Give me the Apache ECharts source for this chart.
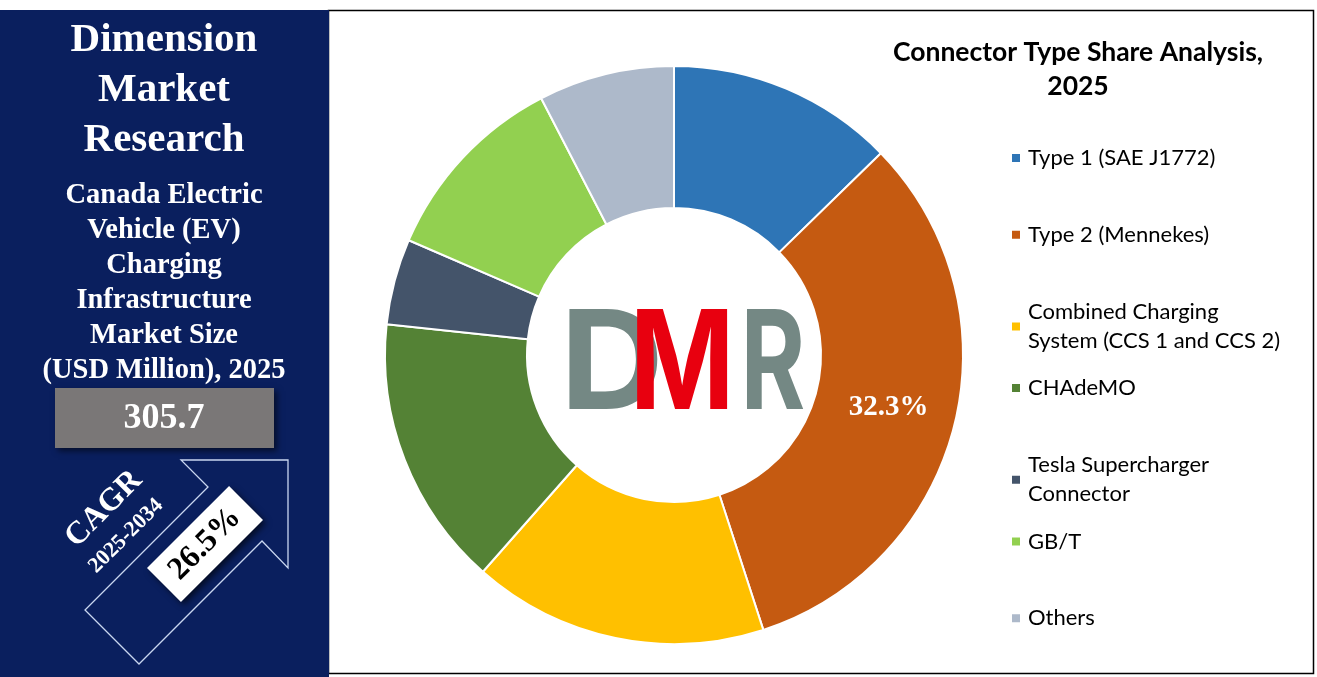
<!DOCTYPE html>
<html>
<head>
<meta charset="utf-8">
<script src="https://cdn.jsdelivr.net/npm/echarts@6/dist/echarts.min.js"></script>
<style>
html,body{margin:0;padding:0;background:#fff;}
#chart{width:1317px;height:677px;}
</style>
</head>
<body>
<div id="chart"></div>
<script>
// ---- data ----
const categories = ['Type 1 (SAE J1772)', 'Type 2 (Mennekes)', 'Combined Charging System (CCS 1 and CCS 2)', 'CHAdeMO', 'Tesla Supercharger Connector', 'GB/T', 'Others'];
const legendLabels = ['Type 1 (SAE J1772)', 'Type 2 (Mennekes)', 'Combined Charging\nSystem (CCS 1 and CCS 2)', 'CHAdeMO', 'Tesla Supercharger\nConnector', 'GB/T', 'Others'];
const shares = [12.7, 32.3, 16.5, 15.2, 4.8, 10.9, 7.6];
const labeledSlices = ['Type 2 (Mennekes)'];
const colors = ['#2e75b6', '#c55a11', '#ffc000', '#548235', '#44546a', '#92d050', '#adb9ca'];
const titleLines = ['Connector Type Share Analysis,', '2025'];
const brandLines = ['Dimension', 'Market', 'Research'];
const marketLines = ['Canada Electric', 'Vehicle (EV)', 'Charging', 'Infrastructure', 'Market Size', '(USD Million), 2025'];
const marketSize = '305.7';
const cagrLabel = 'CAGR';
const cagrPeriod = '2025-2034';
const cagrValue = '26.5%';

const chart = echarts.init(document.getElementById('chart'), null, {renderer: 'canvas'});
const serif = '"Liberation Serif", "Times New Roman", serif';
const sans = 'Lato, "Open Sans", sans-serif';

const graphics = [];
// background panels
graphics.push({type: 'rect', z: -10, shape: {x: 328.5, y: 10.5, width: 985, height: 663}, style: {fill: '#fff', stroke: '#000', lineWidth: 1.5}});
graphics.push({type: 'rect', z: -9, shape: {x: 0, y: 10, width: 329, height: 667}, style: {fill: '#0a1f5e'}});
brandLines.forEach((t, i) => graphics.push({type: 'text', z: 5, x: 164, y: 40 + i * 50, style: {text: t, fill: '#fff', font: 'bold 41px ' + serif, align: 'center', verticalAlign: 'middle'}}));
marketLines.forEach((t, i) => graphics.push({type: 'text', z: 5, x: 164, y: 196 + i * 35, style: {text: t, fill: '#fff', font: 'bold 28.5px ' + serif, align: 'center', verticalAlign: 'middle'}}));
graphics.push({type: 'rect', z: 4, shape: {x: 55, y: 388, width: 219, height: 60}, style: {fill: '#7a7777', shadowBlur: 6, shadowColor: 'rgba(0,0,0,0.55)', shadowOffsetX: 3, shadowOffsetY: 3}});
graphics.push({type: 'text', z: 5, x: 164, y: 419, style: {text: marketSize, fill: '#fff', font: 'bold 36px ' + serif, align: 'center', verticalAlign: 'middle'}});
graphics.push({type: 'polygon', z: 4, shape: {points: [[181, 460], [288, 460], [288, 568], [262, 541], [139, 664], [85, 610], [208, 487]]}, style: {fill: 'none', stroke: '#c9d6f0', lineWidth: 1.3}});
graphics.push({type: 'text', z: 5, x: 104, y: 509, rotation: Math.PI / 4, style: {text: cagrLabel, fill: '#fff', font: 'bold 32px ' + serif, align: 'center', verticalAlign: 'middle'}});
graphics.push({type: 'text', z: 5, x: 126, y: 536, rotation: Math.PI / 4, style: {text: cagrPeriod, fill: '#fff', font: 'bold 22px ' + serif, align: 'center', verticalAlign: 'middle'}});
graphics.push({type: 'rect', z: 5, x: 205, y: 544, rotation: Math.PI / 4, shape: {x: -58, y: -24, width: 116, height: 48}, style: {fill: '#fff', shadowBlur: 6, shadowColor: 'rgba(0,0,0,0.6)', shadowOffsetX: 3, shadowOffsetY: 3}});
graphics.push({type: 'text', z: 6, x: 205, y: 544, rotation: Math.PI / 4, style: {text: cagrValue, fill: '#000', font: 'bold 32px ' + serif, align: 'center', verticalAlign: 'middle'}});
// chart title
titleLines.forEach((t, i) => graphics.push({type: 'text', z: 5, x: 1078, y: 52 + i * 34, style: {text: t, fill: '#000', font: 'bold 26.5px ' + sans, align: 'center', verticalAlign: 'middle'}}));
// DMR logo in the hole
const logoFont = 'bold 137px Inter, "Noto Sans", sans-serif';
graphics.push({type: 'text', z: 20, x: 612, y: 368, scaleX: 1.05, style: {text: 'D', fill: '#748884', font: logoFont, align: 'center', verticalAlign: 'middle'}});
graphics.push({type: 'text', z: 21, x: 682, y: 368, scaleX: 0.82, style: {text: 'M', fill: '#e8000f', font: logoFont, align: 'center', verticalAlign: 'middle'}});
graphics.push({type: 'text', z: 20, x: 773, y: 368, scaleX: 0.72, style: {text: 'R', fill: '#748884', font: logoFont, align: 'center', verticalAlign: 'middle'}});

const legends = categories.map((name, i) => {
  const two = legendLabels[i].indexOf('\n') >= 0;
  const c = 158 + i * 76.7;
  return {
    data: [name], left: 1010, top: two ? c - 28.5 : c - 14.5, padding: 0, itemGap: 0,
    itemWidth: 10, itemHeight: 10, icon: 'rect', selectedMode: false,
    formatter: () => legendLabels[i],
    textStyle: {fontFamily: sans, fontSize: 22, color: '#000', lineHeight: 29, padding: two ? [29, 0, 0, 2] : [0, 0, 0, 2]}
  };
});

chart.setOption({
  animation: false,
  color: colors,
  graphic: graphics,
  legend: legends,
  series: [{
    type: 'pie',
    center: [674, 355],
    radius: [147, 289],
    startAngle: 90,
    clockwise: true,
    avoidLabelOverlap: false,
    itemStyle: {borderColor: '#fff', borderWidth: 2},
    emphasis: {disabled: true},
    labelLine: {show: false},
    label: {show: false},
    data: categories.map((name, i) => ({
      name: name,
      value: shares[i],
      label: {
        show: labeledSlices.indexOf(name) >= 0,
        position: 'inside',
        formatter: p => p.value.toFixed(1) + '%',
        color: '#fff',
        fontFamily: serif,
        fontWeight: 'bold',
        fontSize: 29
      }
    }))
  }]
});
</script>
</body>
</html>
